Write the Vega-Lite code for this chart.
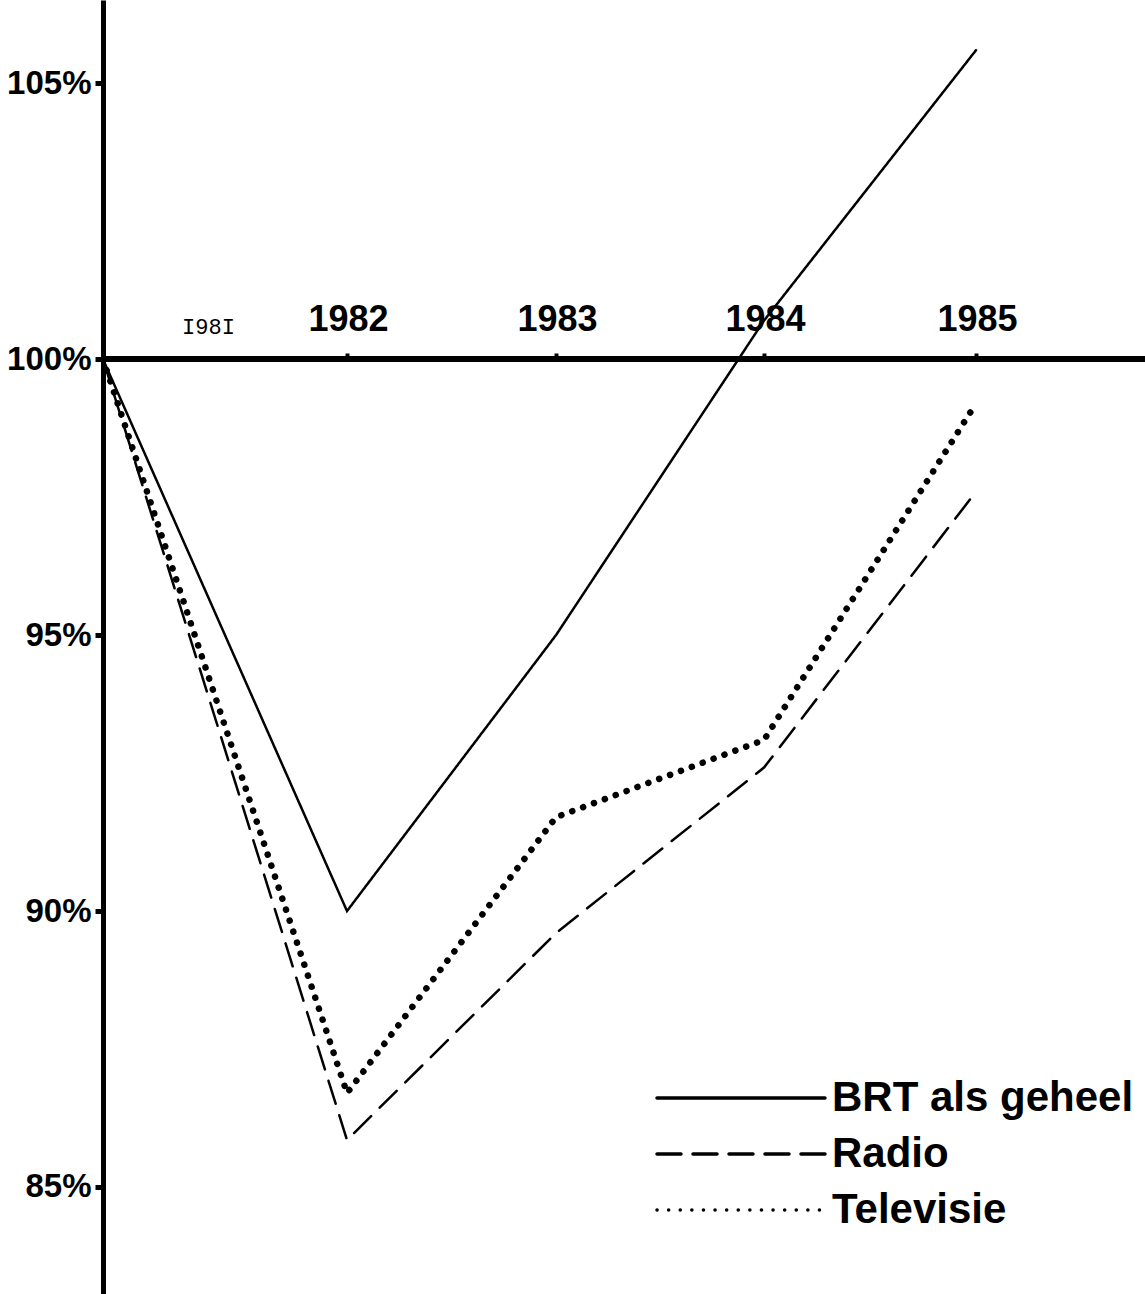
{
  "$schema": "https://vega.github.io/schema/vega-lite/v6.json",
  "autosize": "none",
  "padding": {"left": 103, "top": 0, "right": 0, "bottom": 0},
  "width": 1042,
  "height": 1294,
  "background": "white",
  "config": {"view": {"stroke": null}, "axis": {"grid": false}},
  "data": {
    "values": [
      {"series": "BRT als geheel", "year": 1981, "value": 100},
      {"series": "BRT als geheel", "year": 1982, "value": 90.0},
      {"series": "BRT als geheel", "year": 1983, "value": 95.0},
      {"series": "BRT als geheel", "year": 1984, "value": 100.7},
      {"series": "BRT als geheel", "year": 1985, "value": 105.6},
      {"series": "Radio", "year": 1981, "value": 100},
      {"series": "Radio", "year": 1982, "value": 85.85},
      {"series": "Radio", "year": 1983, "value": 89.6},
      {"series": "Radio", "year": 1984, "value": 92.6},
      {"series": "Radio", "year": 1985, "value": 97.6},
      {"series": "Televisie", "year": 1981, "value": 100},
      {"series": "Televisie", "year": 1982, "value": 86.7},
      {"series": "Televisie", "year": 1983, "value": 91.7},
      {"series": "Televisie", "year": 1984, "value": 93.1},
      {"series": "Televisie", "year": 1985, "value": 99.2}
    ]
  },
  "layer": [
    {
      "mark": {"type": "rule", "color": "black", "strokeWidth": 5},
      "encoding": {"y": {"datum": 100, "type": "quantitative"}}
    },
    {
      "mark": {"type": "line", "color": "black", "strokeCap": "round", "strokeJoin": "miter"},
      "encoding": {
        "x": {
          "field": "year",
          "type": "quantitative",
          "scale": {"domain": [1981, 1982, 1983, 1984, 1985], "range": [0, 244, 453, 661, 873], "nice": false, "zero": false},
          "axis": {
            "orient": "top",
            "offset": -359,
            "title": null,
            "domain": false,
            "values": [1981, 1982, 1983, 1984, 1985],
            "labelExpr": "datum.value == 1981 ? 'I98I' : '' + datum.value",
            "ticks": true,
            "tickSize": 6,
            "tickWidth": 4,
            "tickColor": "black",
            "labelPadding": 15,
            "labelColor": "black",
            "labelFont": {"condition": {"test": "datum.value == 1981", "value": "Liberation Mono"}, "value": "Liberation Sans"},
            "labelFontSize": {"condition": {"test": "datum.value == 1981", "value": 22}, "value": 36},
            "labelFontWeight": {"condition": {"test": "datum.value == 1981", "value": "normal"}, "value": "bold"},
            "labelOffset": {"condition": {"test": "datum.value == 1981", "value": 105}, "value": 1},
            "labelFlush": false,
            "labelOverlap": false
          }
        },
        "y": {
          "field": "value",
          "type": "quantitative",
          "scale": {"domain": [83.06, 106.51], "nice": false, "zero": false},
          "axis": {
            "title": null,
            "values": [85, 90, 95, 100, 105],
            "labelExpr": "datum.value + '%'",
            "domain": true,
            "domainColor": "black",
            "domainWidth": 5,
            "tickColor": "black",
            "tickSize": 8,
            "tickWidth": 5,
            "labelPadding": 4,
            "labelColor": "black",
            "labelFont": "Liberation Sans",
            "labelFontWeight": "bold",
            "labelFontSize": 33,
            "labelFlush": false,
            "labelOverlap": false
          }
        },
        "strokeDash": {
          "field": "series",
          "type": "nominal",
          "scale": {"domain": ["BRT als geheel", "Radio", "Televisie"], "range": [[1, 0], [24, 12], [0.1, 11.5]]},
          "legend": {
            "orient": "none",
            "legendX": 683,
            "legendY": 1077,
            "padding": 0,
            "title": null,
            "symbolType": "M-15,0H1.8",
            "symbolSize": 400,
            "symbolStrokeWidth": 3.5,
            "symbolStrokeColor": "black",
            "labelFont": "Liberation Sans",
            "labelFontSize": 42,
            "labelFontWeight": "bold",
            "labelColor": "black",
            "labelOffset": 4,
            "labelLimit": 500,
            "rowPadding": 14,
            "encode": {"symbols": {"update": {"strokeCap": {"value": "round"}}}}
          }
        },
        "strokeWidth": {
          "condition": {"test": "datum.series == 'Televisie'", "value": 6.5},
          "value": 2.5
        }
      }
    }
  ]
}
